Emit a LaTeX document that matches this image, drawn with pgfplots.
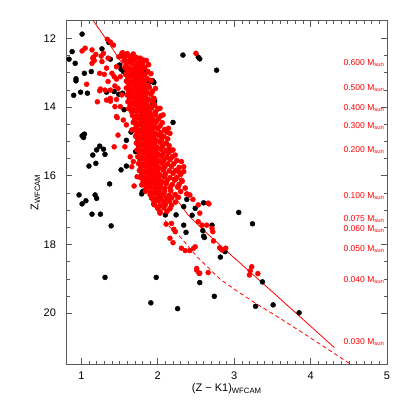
\documentclass[border=0pt]{standalone}
\usepackage{fontspec}
\setmainfont{Liberation Sans}
\usepackage{pgfplots}
\pgfplotsset{compat=1.18}
\begin{document}
\begin{tikzpicture}
\begin{axis}[
 scale only axis, width=320.5pt, height=343.3pt,
 xmin=0.806, xmax=5, ymin=11.49, ymax=21.48, y dir=reverse,
 xtick={1,2,3,4,5}, ytick={12,14,16,18,20},
 minor x tick num=9, minor y tick num=3,
 tick align=inside, major tick length=6pt, minor tick length=3.5pt,
 axis line style={black!65, line width=0.5pt},
 every tick/.style={black!65, line width=0.5pt},
 ticklabel style={font=\fontsize{11}{12}\selectfont},
 /pgf/number format/assume math mode=true,
 xticklabel style={yshift=-4pt},
 yticklabel style={xshift=-7pt},
 xlabel={(Z − K1)\textsubscript{WFCAM}}, ylabel={Z\textsubscript{WFCAM}},
 label style={font=\fontsize{11}{12}\selectfont},
 xlabel style={at={(axis description cs:0.5,0)}, anchor=center, yshift=-25pt},
 ylabel style={at={(axis description cs:0,0.5)}, anchor=center, yshift=31pt},
 clip=true,
]
% isochrone lines
\addplot[red, line width=0.8pt] coordinates {(1.157,11.49)(1.30,11.95)(1.45,12.45)(1.60,12.95)(1.75,13.55)(1.88,14.3)(1.98,15.1)(2.07,15.8)(2.20,16.55)(2.40,17.15)(2.59,17.57)(3.0,18.39)(3.5,19.38)(4.0,20.38)(4.31,21.0)};
\addplot[red, line width=0.8pt, dash pattern=on 4pt off 3pt] coordinates {(1.95,15.5)(2.02,16.5)(2.11,17.39)(2.31,17.82)(2.51,18.35)(2.82,19.02)(3.06,19.39)(3.30,19.74)(3.55,20.08)(4.0,20.72)(4.52,21.48)};
% black points
\addplot[only marks, mark=*, mark size=2.5pt, black] coordinates {
(1.01,11.88)(0.88,12.39)(0.84,12.61)(0.92,12.73)(1.27,12.31)(1.38,12.61)(1.13,12.97)(1.04,13.02)(0.93,13.18)(0.93,13.24)
(0.99,13.57)(0.90,13.66)(1.08,13.60)(1.33,13.57)(1.50,12.78)(1.52,12.90)(1.55,12.97)(1.73,12.94)(1.78,13.00)(1.89,13.28)
(1.64,13.57)(1.54,13.60)(1.43,13.55)(1.73,13.72)(1.83,13.63)(1.36,12.12)(2.33,12.49)(2.53,12.55)(2.55,12.60)(2.77,12.93)
(1.84,12.97)(1.93,13.23)(1.95,13.29)(1.88,13.28)(1.96,13.83)(1.93,13.92)(1.04,14.79)(1.01,14.84)(1.03,14.89)(1.24,15.14)
(1.29,15.23)(1.20,15.25)(1.31,15.38)(1.15,15.40)(1.10,15.72)(1.19,15.64)(1.52,15.83)(1.59,15.72)(1.37,16.24)(1.65,14.73)
(1.59,14.97)(1.56,14.08)(1.89,15.35)(1.71,15.30)(1.86,16.22)(0.97,16.56)(1.18,16.56)(1.20,16.66)(1.06,16.73)(1.01,16.82)
(1.14,17.12)(1.25,17.12)(1.39,17.46)(1.80,16.47)(1.79,16.53)(1.81,16.45)(1.87,16.32)(1.95,16.83)(2.10,17.14)(1.99,16.22)
(2.24,17.14)(2.34,16.90)(2.38,16.69)(2.60,16.79)(2.45,17.15)(2.49,16.95)(2.34,17.44)(2.37,17.65)(2.71,17.44)(2.60,17.76)
(2.82,18.37)(3.06,17.07)(3.24,17.40)(2.59,17.60)(2.61,17.80)(2.88,18.21)(1.31,18.96)(1.98,18.96)(1.91,19.70)(2.26,19.87)
(2.55,19.11)(2.74,19.51)(3.37,19.09)(3.28,19.80)(3.51,19.76)(3.85,19.99)(2.20,14.45)(2.15,15.28)(1.94,15.56)(2.23,16.10)
(1.92,13.80)(2.11,15.06)(1.67,12.99)(1.94,13.26)(1.86,12.97)(1.62,12.89)(1.49,13.63)
};
% red points: scattered
\addplot[only marks, mark=*, mark size=2.5pt, red] coordinates {
(1.34,12.03)(1.38,12.11)(1.01,12.37)(1.05,12.29)(1.14,12.34)(1.19,12.47)(1.15,12.58)(1.17,12.65)(1.14,12.73)(1.26,12.52)
(1.29,12.44)(1.35,12.58)(1.42,12.20)(1.24,13.02)(1.30,13.05)(1.40,13.02)(1.35,13.26)(1.24,13.53)(1.31,13.51)(1.38,13.51)
(1.44,13.39)(1.33,13.80)(1.38,13.75)(1.21,13.85)(1.46,13.78)(1.53,13.65)(1.48,13.46)(1.43,13.12)(1.51,13.12)(1.49,12.54)
(1.53,12.44)(1.59,12.68)(1.62,12.52)(1.66,12.58)(1.33,12.87)(1.27,12.68)(1.16,12.55)(1.07,13.34)(1.25,13.48)(1.46,13.19)
(1.44,13.99)(1.47,14.31)(1.43,15.16)(1.46,12.83)(1.52,12.52)(1.54,12.42)(1.69,16.30)(1.81,16.17)(2.50,12.44)
(1.38,13.83)(1.51,13.99)(1.46,14.28)(1.55,14.38)(1.59,14.52)(1.66,14.67)(1.48,14.82)(1.57,15.16)(1.64,15.45)(1.68,15.59)
(1.66,15.74)(1.73,16.03)(1.79,16.27)
(2.03,17.09)(2.11,17.41)(2.18,17.39)(2.21,17.56)(2.23,17.63)(2.16,17.82)(2.20,17.95)(2.31,18.11)(2.36,18.18)(2.42,18.18)
(2.47,18.11)(2.49,18.07)(2.51,18.70)(2.54,18.84)(2.51,18.75)(2.66,18.82)(2.42,16.56)(2.46,16.69)(2.53,16.85)(2.66,16.80)
(2.55,17.09)(2.67,16.82)(2.53,17.34)(2.58,17.44)(2.64,17.44)(2.71,17.53)(2.72,17.63)(2.73,17.90)(2.81,18.10)(2.89,18.11)
(2.84,18.16)(3.23,18.65)(3.21,18.77)(3.20,18.89)(3.31,18.85)(1.94,13.85)(2.03,14.04)(2.07,14.23)(2.14,14.62)(2.16,14.77)
(2.20,15.25)(2.23,15.40)(2.31,15.59)(2.34,15.74)(2.34,15.88)(2.27,15.88)(2.31,16.13)(2.27,16.32)(1.81,12.63)(1.75,12.73)
(1.77,12.58)(1.81,12.83)(1.70,12.63)(2.55,18.84)
};
% red points: dense sequence
\addplot[only marks, mark=*, mark size=2.6pt, red] coordinates {
(1.60,12.45)(1.68,12.46)
(1.57,12.55)(1.64,12.53)(1.72,12.56)
(1.56,12.65)(1.62,12.67)(1.69,12.64)(1.77,12.66)(1.85,12.65)
(1.59,12.75)(1.66,12.73)(1.73,12.76)(1.80,12.74)(1.88,12.77)
(1.57,12.85)(1.63,12.87)(1.70,12.84)(1.76,12.86)(1.83,12.85)
(1.60,12.95)(1.66,12.93)(1.72,12.96)(1.79,12.94)(1.87,12.97)
(1.58,13.05)(1.64,13.07)(1.70,13.04)(1.76,13.06)(1.83,13.05)(1.91,13.03)
(1.61,13.15)(1.67,13.13)(1.73,13.16)(1.79,13.14)(1.86,13.17)
(1.59,13.25)(1.65,13.27)(1.71,13.24)(1.77,13.26)(1.83,13.25)(1.91,13.23)
(1.62,13.35)(1.68,13.33)(1.74,13.36)(1.80,13.34)(1.87,13.37)
(1.59,13.45)(1.65,13.47)(1.71,13.44)(1.77,13.46)(1.83,13.45)(1.89,13.43)(1.97,13.46)
(1.62,13.55)(1.68,13.53)(1.74,13.56)(1.80,13.54)(1.86,13.57)(1.93,13.55)
(1.60,13.65)(1.66,13.67)(1.72,13.64)(1.78,13.66)(1.84,13.65)(1.91,13.63)
(1.63,13.75)(1.69,13.73)(1.75,13.76)(1.81,13.74)(1.87,13.77)(1.95,13.75)
(1.61,13.85)(1.67,13.87)(1.73,13.84)(1.79,13.86)(1.85,13.85)(1.92,13.83)
(1.64,13.95)(1.70,13.93)(1.76,13.96)(1.82,13.94)(1.88,13.97)(1.96,13.95)
(1.62,14.05)(1.68,14.07)(1.74,14.04)(1.80,14.06)(1.86,14.05)(1.92,14.03)(2.00,14.06)
(1.66,14.15)(1.72,14.13)(1.78,14.16)(1.84,14.14)(1.90,14.17)(1.97,14.15)
(1.67,14.25)(1.73,14.27)(1.79,14.24)(1.85,14.26)(1.91,14.25)(1.97,14.23)(2.04,14.26)
(1.70,14.35)(1.76,14.33)(1.82,14.36)(1.88,14.34)(1.94,14.37)(2.01,14.35)
(1.68,14.45)(1.74,14.47)(1.80,14.44)(1.86,14.46)(1.92,14.45)(1.98,14.43)(2.06,14.46)
(1.72,14.55)(1.78,14.53)(1.84,14.56)(1.90,14.54)(1.96,14.57)(2.03,14.55)
(1.69,14.65)(1.75,14.67)(1.81,14.64)(1.87,14.66)(1.93,14.65)(2.00,14.63)(2.09,14.66)
(1.73,14.75)(1.79,14.73)(1.85,14.76)(1.91,14.74)(1.97,14.77)(2.04,14.75)(2.12,14.73)
(1.71,14.85)(1.77,14.87)(1.83,14.84)(1.89,14.86)(1.95,14.85)(2.02,14.83)(2.08,14.86)
(1.74,14.95)(1.80,14.93)(1.86,14.96)(1.92,14.94)(1.98,14.97)(2.05,14.95)(2.13,14.93)
(1.72,15.05)(1.78,15.07)(1.84,15.04)(1.90,15.06)(1.96,15.05)(2.03,15.03)(2.10,15.06)
(1.75,15.15)(1.81,15.13)(1.87,15.16)(1.93,15.14)(1.99,15.17)(2.06,15.15)(2.15,15.13)
(1.73,15.25)(1.79,15.27)(1.85,15.24)(1.91,15.26)(1.97,15.25)(2.04,15.23)(2.11,15.26)(2.18,15.27)
(1.76,15.35)(1.82,15.33)(1.88,15.36)(1.94,15.34)(2.00,15.37)(2.07,15.35)(2.14,15.33)
(1.74,15.45)(1.80,15.47)(1.86,15.44)(1.92,15.46)(1.98,15.45)(2.05,15.43)(2.12,15.46)(2.19,15.45)
(1.77,15.55)(1.83,15.53)(1.89,15.56)(1.95,15.54)(2.01,15.57)(2.08,15.55)(2.16,15.53)(2.25,15.56)
(1.75,15.65)(1.81,15.67)(1.87,15.64)(1.93,15.66)(1.99,15.65)(2.06,15.63)(2.13,15.66)(2.21,15.65)
(1.78,15.75)(1.84,15.73)(1.90,15.76)(1.96,15.74)(2.02,15.77)(2.09,15.75)(2.18,15.73)(2.28,15.76)
(1.76,15.85)(1.82,15.87)(1.88,15.84)(1.94,15.86)(2.00,15.85)(2.07,15.83)(2.15,15.86)(2.23,15.85)
(1.79,15.95)(1.85,15.93)(1.91,15.96)(1.97,15.94)(2.03,15.97)(2.10,15.95)(2.20,15.93)(2.30,15.96)
(1.77,16.05)(1.83,16.07)(1.89,16.04)(1.95,16.06)(2.01,16.05)(2.08,16.03)(2.16,16.06)(2.25,16.05)
(1.81,16.15)(1.87,16.13)(1.93,16.16)(1.99,16.14)(2.05,16.17)(2.12,16.15)(2.22,16.13)(2.32,16.16)
(1.80,16.25)(1.86,16.27)(1.92,16.24)(1.98,16.26)(2.04,16.25)(2.11,16.23)(2.19,16.26)(2.28,16.25)
(1.85,16.35)(1.91,16.33)(1.97,16.36)(2.03,16.34)(2.09,16.37)(2.16,16.35)(2.26,16.33)(2.36,16.36)
(1.84,16.45)(1.90,16.47)(1.96,16.44)(2.02,16.46)(2.09,16.45)(2.17,16.43)(2.30,16.46)
(1.90,16.55)(1.96,16.53)(2.02,16.56)(2.08,16.54)(2.15,16.57)(2.23,16.55)(2.38,16.53)
(1.92,16.65)(1.98,16.67)(2.04,16.64)(2.11,16.66)(2.18,16.65)(2.27,16.63)
(1.95,16.75)(2.01,16.73)(2.08,16.76)(2.15,16.74)(2.23,16.77)
(1.96,16.85)(2.03,16.87)(2.10,16.84)(2.18,16.86)
(2.00,16.95)(2.08,16.93)(2.16,16.96)
(2.03,17.05)(2.12,17.04)
};
% mass labels
\begin{scope}[every node/.style={anchor=base east, inner sep=0pt, text=red, font=\fontsize{8.5}{9}\selectfont}]
\node at (axis cs:4.969,12.79) {0.600 M\textsubscript{sun}};
\node at (axis cs:4.969,13.53) {0.500 M\textsubscript{sun}};
\node at (axis cs:4.969,14.11) {0.400 M\textsubscript{sun}};
\node at (axis cs:4.969,14.64) {0.300 M\textsubscript{sun}};
\node at (axis cs:4.969,15.32) {0.200 M\textsubscript{sun}};
\node at (axis cs:4.969,16.66) {0.100 M\textsubscript{sun}};
\node at (axis cs:4.969,17.34) {0.075 M\textsubscript{sun}};
\node at (axis cs:4.969,17.63) {0.060 M\textsubscript{sun}};
\node at (axis cs:4.969,18.22) {0.050 M\textsubscript{sun}};
\node at (axis cs:4.969,19.11) {0.040 M\textsubscript{sun}};
\node at (axis cs:4.969,20.92) {0.030 M\textsubscript{sun}};
\end{scope}
\end{axis}
\pgfresetboundingbox
\path (current axis.south west) ++(-66.5pt,-43pt) rectangle ++(407pt,407pt);
\end{tikzpicture}
\end{document}
